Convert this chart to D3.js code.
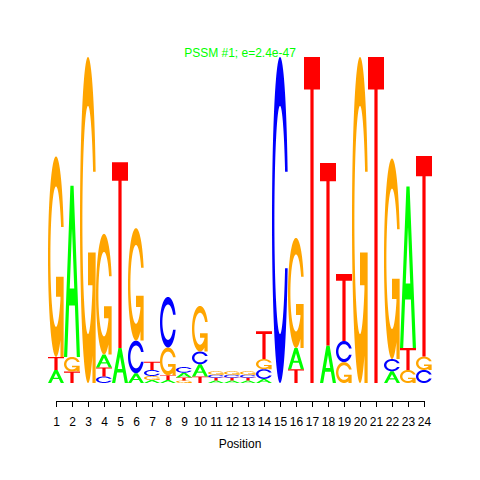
<!DOCTYPE html>
<html><head><meta charset="utf-8">
<script src="https://cdn.jsdelivr.net/npm/d3@7"></script>
<style>body{margin:0;background:#fff}</style>
</head><body>
<svg id="c" width="480" height="480"></svg>
<script>
// ---- data (information content in bits, per position) ----
const positions = d3.range(1, 25);
const tickLabels = positions.map(String);
const bitsA = [0.08, 1.05, 0, 0.08, 0.215, 0.06, 0.018, 0.018, 0.03, 0.075, 0.015, 0.015, 0.015, 0.025, 0, 0.13, 0, 0.23, 0, 0, 0, 0.072, 0.99, 0];
const bitsC = [0, 0, 0, 0.04, 0, 0.2, 0.037, 0.31, 0.035, 0.078, 0.019, 0.019, 0.019, 0.06, 2.0, 0, 0, 0, 0.13, 0, 0, 0.075, 0, 0.08];
const bitsG = [1.23, 0.09, 2.0, 0.74, 0, 0.69, 0.025, 0.17, 0.015, 0.28, 0.021, 0.021, 0.021, 0.062, 0, 0.675, 0, 0, 0.128, 2.0, 0, 1.23, 0.08, 0.082];
const bitsT = [0.08, 0.07, 0, 0.055, 1.14, 0, 0.05, 0.03, 0.018, 0.04, 0.017, 0.017, 0.017, 0.17, 0, 0.085, 2.0, 1.12, 0.41, 0, 2.0, 0, 0.135, 1.23];
const letters = ["A", "C", "G", "T"];
const letterColors = {A: "#00FF00", C: "#0000FF", G: "#FFA500", T: "#FF0000"};
const titleText = "PSSM #1; e=2.4e-47";
const xLabel = "Position";

// ---- glyph outlines in unit square (seqLogo style polygons) ----
function seq(a, b, n) { return d3.range(n).map(i => a + (b - a) * i / (n - 1)); }
function ringPolys() {
  const a1 = seq(0.3 + Math.PI / 2, Math.PI, 100), a2 = seq(Math.PI, 1.5 * Math.PI, 100);
  const xl1 = a1.map(a => 0.5 + 0.5 * Math.sin(a)), yl1 = a1.map(a => 0.5 + 0.5 * Math.cos(a));
  const xl2 = a2.map(a => 0.5 + 0.5 * Math.sin(a)), yl2 = a2.map(a => 0.5 + 0.5 * Math.cos(a));
  const xl = xl1.concat(xl2), yl = yl1.concat(yl2);
  let X = xl.concat(xl.slice().reverse());
  let Y = yl.concat(yl.slice().reverse().map(v => 1 - v));
  const maxY = d3.max(yl1);
  let xi1 = a1.map(a => 0.5 + 0.35 * Math.sin(a)), yi1 = a1.map(a => 0.5 + 0.35 * Math.cos(a));
  const keep = yi1.map(v => v <= maxY);
  xi1 = xi1.filter((v, i) => keep[i]); yi1 = yi1.filter((v, i) => keep[i]);
  yi1[0] = maxY;
  const xi2 = a2.map(a => 0.5 + 0.35 * Math.sin(a)), yi2 = a2.map(a => 0.5 + 0.35 * Math.cos(a));
  const xi = xi1.concat(xi2), yi = yi1.concat(yi2);
  const X1 = xi.concat(xi.slice().reverse());
  const Y1 = yi.concat(yi.slice().reverse().map(v => 1 - v));
  X = X.concat(X1.slice().reverse()); Y = Y.concat(Y1.slice().reverse());
  return {pts: X.map((v, i) => [v, Y[i]]), r1: d3.max(xl1)};
}
const ring = ringPolys();
const glyphs = {
  A: [[[0,0],[.4,1],[.6,1],[1,0],[.8,0],[.68,.3],[.32,.3],[.2,0],[0,0]],
      [[.36,.4],[.5,.75],[.64,.4],[.36,.4]]],
  T: [[[0,1],[1,1],[1,.9],[.6,.9],[.6,0],[.4,0],[.4,.9],[0,.9]]],
  C: [ring.pts],
  G: [ring.pts.slice().reverse(),
      [[ring.r1,.4],[.5,.4],[.5,.3],[ring.r1-.2,.3],[ring.r1-.2,0],[ring.r1,0],[ring.r1,.4]]]
};

// ---- scales ----
const svg = d3.select("#c");
const x = d3.scaleLinear().domain([1, 24]).range([56, 424]);
const y = d3.scaleLinear().domain([0, 2]).range([383, 57]);
const table = {A: bitsA, C: bitsC, G: bitsG, T: bitsT};

const line = d3.line();
const gLogo = svg.append("g");
positions.forEach((p, i) => {
  const stack = letters.map(l => ({l, h: table[l][i]})).filter(d => d.h > 0)
    .sort((a, b) => a.h - b.h);
  let y0 = 0;
  const x0 = x(p - 0.5), w = x(p + 0.5) - x(p - 0.5);
  stack.forEach(d => {
    const dstr = glyphs[d.l].map(poly =>
      line(poly.map(([ux, uy]) => [x0 + ux * w, y(y0 + uy * d.h)])) + "Z").join("");
    gLogo.append("path").attr("d", dstr)
      .attr("fill", letterColors[d.l])
      .attr("fill-rule", d.l === "A" ? "evenodd" : "nonzero");
    y0 += d.h;
  });
});

// ---- axis ----
const axis = d3.axisBottom(x).tickValues(positions)
  .tickFormat((d, i) => tickLabels[i]).tickSize(6).tickSizeOuter(0).tickPadding(10);
const gAx = svg.append("g").attr("transform", "translate(0,401)").call(axis);
gAx.attr("font-family", "'Liberation Sans', Arial, sans-serif").attr("font-size", 12);
gAx.selectAll("path,line").attr("stroke", "#000");
gAx.selectAll("text").attr("fill", "#000");

svg.append("text").attr("x", 240).attr("y", 448).attr("text-anchor", "middle")
  .attr("font-family", "'Liberation Sans', Arial, sans-serif").attr("font-size", 12)
  .text(xLabel);
svg.append("text").attr("x", 240).attr("y", 57).attr("text-anchor", "middle")
  .attr("font-family", "'Liberation Sans', Arial, sans-serif").attr("font-size", 12)
  .attr("fill", "#00FF00").text(titleText);
</script>
</body></html>
